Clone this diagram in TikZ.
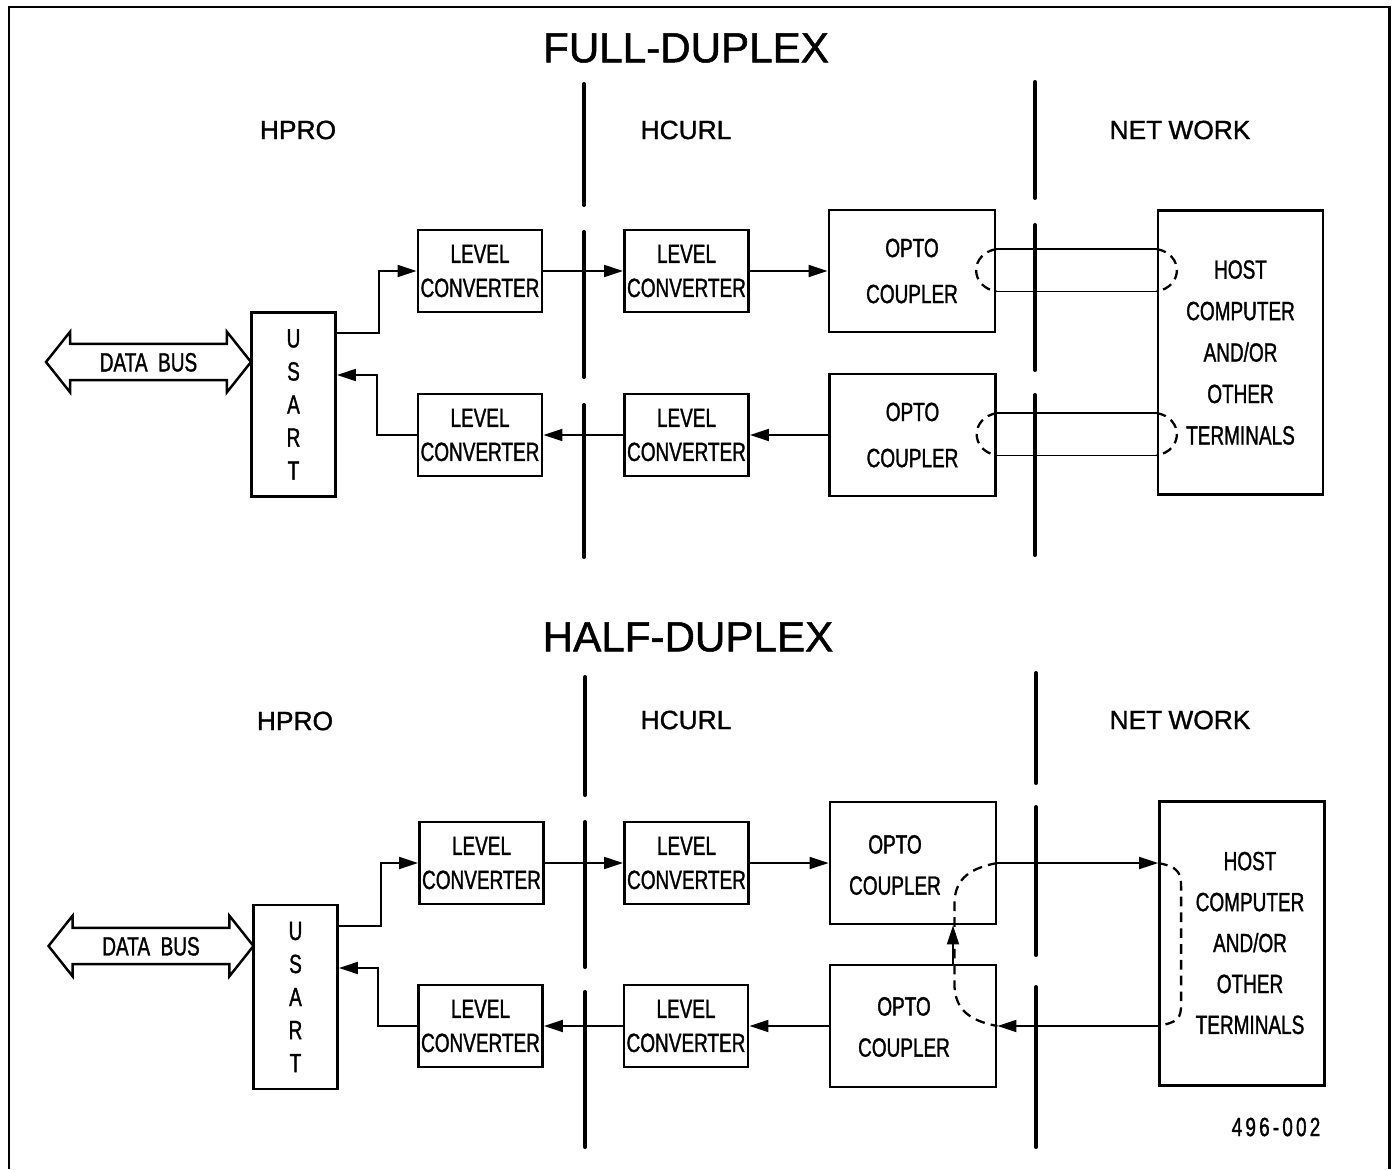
\documentclass[tikz,border=0pt]{standalone}
\usepackage{fontspec}
\setmainfont{Liberation Sans}[FakeBold=0.8]
\newfontfamily\platefont[FakeStretch=0.72, FakeBold=1.2]{Liberation Sans}
\newfontfamily\headfont[FakeBold=1.2]{Liberation Sans}
\usetikzlibrary{arrows.meta, calc, positioning, shapes.arrows}

\tikzset{
    frame/.style={line width=1.7pt},
    divider/.style={line width=2.3pt, line cap=round},
    box/.style={draw, line width=1.6pt, inner sep=0pt, align=center,
        font=\platefont\fontsize{15}{19.4}\selectfont},
    lvlbox/.style={box, minimum width=2.48cm, minimum height=1.64cm},
    optobox/.style={box, minimum width=3.32cm, minimum height=2.44cm,
        font=\platefont\fontsize{15}{26.2}\selectfont},
    hostbox/.style={box, minimum width=3.3cm, minimum height=5.68cm,
        font=\platefont\fontsize{15}{23.6}\selectfont},
    usartbox/.style={box, minimum width=1.68cm, minimum height=3.68cm,
        font=\platefont\fontsize{15}{18.8}\selectfont},
    boxtext/.style={align=center, inner sep=0pt,
        font=\platefont\fontsize{15}{23.4}\selectfont},
    databus/.style={double arrow, draw, fill=white, line width=1.4pt,
        double arrow tip angle=103, double arrow head extend=0.24cm,
        minimum height=4.1cm, text height=10.7pt, text depth=0pt,
        inner ysep=4.3pt, inner xsep=0pt,
        font=\platefont\fontsize{15}{18}\selectfont},
    sig/.style={line width=1.1pt, -{Triangle[length=0.38cm,width=0.24cm]}},
    wire/.style={line width=1.1pt},
    loop/.style={line width=1.3pt, dash pattern=on 5.5pt off 3.5pt},
    title/.style={font=\headfont\fontsize{24}{28}\selectfont},
    side/.style={font=\headfont\fontsize{15}{18}\selectfont},
}

\begin{document}
\begin{tikzpicture}[x=0.02cm, y=-0.02cm]
\useasboundingbox (0,0) rectangle (1395,1169);

\draw[frame] (9,1169) -- (9,7) -- (1389,7) -- (1389,1169);

% full duplex
\node[title] (full) at (686,48) {FULL-DUPLEX};
\node[side] (hpro1) at (298,130) {HPRO};
\node[side] (hcurl1) at (686,130) {HCURL};
\node[side] (net1) at (1180,130) {NET\kern3.5pt WORK};

    \foreach \ya/\yb in {84/205,232/377,405/557}
    {
      \draw[divider] (584,\ya) -- (584,\yb);
    }
    \foreach \ya/\yb in {82/198,225/370,395/555}
    {
      \draw[divider] (1035,\ya) -- (1035,\yb);
    }

\node[usartbox] (us1) at (293.5,404.5) {U\\S\\A\\R\\T};
\node[databus] (db1) at (148.5,362) {DATA\ \ BUS};
\node[lvlbox] (lc1) at (480,271) {LEVEL\\CONVERTER};
\node[lvlbox] (lc2) at (686.5,271) {LEVEL\\CONVERTER};
\node[lvlbox] (lc3) at (480,435) {LEVEL\\CONVERTER};
\node[lvlbox] (lc4) at (686.5,435) {LEVEL\\CONVERTER};
\node[optobox] (oc1) at (912,271) {OPTO\\COUPLER};
\node[optobox] (oc2) at (912.5,435) {OPTO\\COUPLER};
\node[hostbox] (hc1) at (1240.5,352.5) {HOST\\COMPUTER\\AND/OR\\OTHER\\TERMINALS};

\draw[sig] ($(us1.east)+(0,-71.5)$) -- ++(42,0) |- (lc1.west);
\draw[sig] (lc1.east) -- (lc2.west);
\draw[sig] (lc2.east) -- (oc1.west);
\draw[sig] (oc2.west) -- (lc4.east);
\draw[sig] (lc4.west) -- (lc3.east);
\draw[sig] (lc3.west) -- ++(-40,0) |- ($(us1.east)+(0,-29.5)$);

\coordinate (oc1a) at ($(oc1.east)+(0,-22)$);
\coordinate (oc1b) at ($(oc1.east)+(0,20.5)$);
\coordinate (oc2a) at ($(oc2.east)+(0,-22)$);
\coordinate (oc2b) at ($(oc2.east)+(0,20.5)$);
\draw[wire] (oc1a) -- (oc1a -| hc1.west);
\draw[wire] (oc1b) -- (oc1b -| hc1.west);
\draw[wire] (oc2a) -- (oc2a -| hc1.west);
\draw[wire] (oc2b) -- (oc2b -| hc1.west);

    \foreach \p in {oc1,oc2}
    {
      \draw[loop] (\p a) .. controls +(-27,5) and +(-27,-5) .. (\p b);
      \draw[loop] (\p a -| hc1.west) .. controls +(27,5) and +(27,-5) .. (\p b -| hc1.west);
    }

% half duplex
\node[title] (half) at (688,637) {HALF-DUPLEX};
\node[side] (hpro2) at (295,721) {HPRO};
\node[side] (hcurl2) at (686,720) {HCURL};
\node[side] (net2) at (1180,720) {NET\kern3.5pt WORK};

    \foreach \ya/\yb in {677/795,822/967,992/1147}
    {
      \draw[divider] (585,\ya) -- (585,\yb);
    }
    \foreach \ya/\yb in {673/783,807/955,987/1147}
    {
      \draw[divider] (1036,\ya) -- (1036,\yb);
    }

\node[usartbox] (us2) at (295.5,997) {U\\S\\A\\R\\T};
\node[databus] (db2) at (151,946) {DATA\ \ BUS};
\node[lvlbox] (lc5) at (481.5,863) {LEVEL\\CONVERTER};
\node[lvlbox] (lc6) at (686.5,863) {LEVEL\\CONVERTER};
\node[lvlbox] (lc7) at (480.5,1026) {LEVEL\\CONVERTER};
\node[lvlbox] (lc8) at (686,1026) {LEVEL\\CONVERTER};
\node[optobox] (oc3) at (913,863) {};
\node[optobox] (oc4) at (913,1026) {};
\node[hostbox] (hc2) at (1242,943.5) {};
\node[boxtext] (oc3t) at (895,865) {OPTO\\COUPLER};
\node[boxtext] (oc4t) at (904,1027) {OPTO\\COUPLER};
\node[boxtext, font=\platefont\fontsize{15}{23.3}\selectfont] (hc2t) at (1250,943)
    {HOST\\COMPUTER\\AND/OR\\OTHER\\TERMINALS};
\node[boxtext, font=\platefont\fontsize{15}{18}\selectfont\addfontfeature{LetterSpace=12}]
    (code) at (1276,1127) {496-002};

\draw[sig] ($(us2.east)+(0,-71)$) -- ++(42,0) |- (lc5.west);
\draw[sig] (lc5.east) -- (lc6.west);
\draw[sig] (lc6.east) -- (oc3.west);
\draw[sig] (oc3.east) -- (oc3.east -| hc2.west);
\draw[sig] (oc4.east -| hc2.west) -- (oc4.east);
\draw[sig] (oc4.west) -- (lc8.east);
\draw[sig] (lc8.west) -- (lc7.east);
\draw[sig] (lc7.west) -- ++(-39,0) |- ($(us2.east)+(0,-29)$);
\draw[sig] ($(oc4.north)+(40,0)$) -- ($(oc3.south)+(40,0)$);

\draw[loop] (oc3.east) .. controls +(-33,6) and +(0,-22) .. ++(-43,42)
    -- ++(0,78) .. controls +(0,22) and +(-33,-6) .. (oc4.east);
\draw[loop] (oc3.east -| hc2.west) .. controls +(20,4) and +(0,-16) .. ++(23,25)
    -- ++(0,115) .. controls +(0,16) and +(20,-4) .. (oc4.east -| hc2.west);

\end{tikzpicture}
\end{document}
